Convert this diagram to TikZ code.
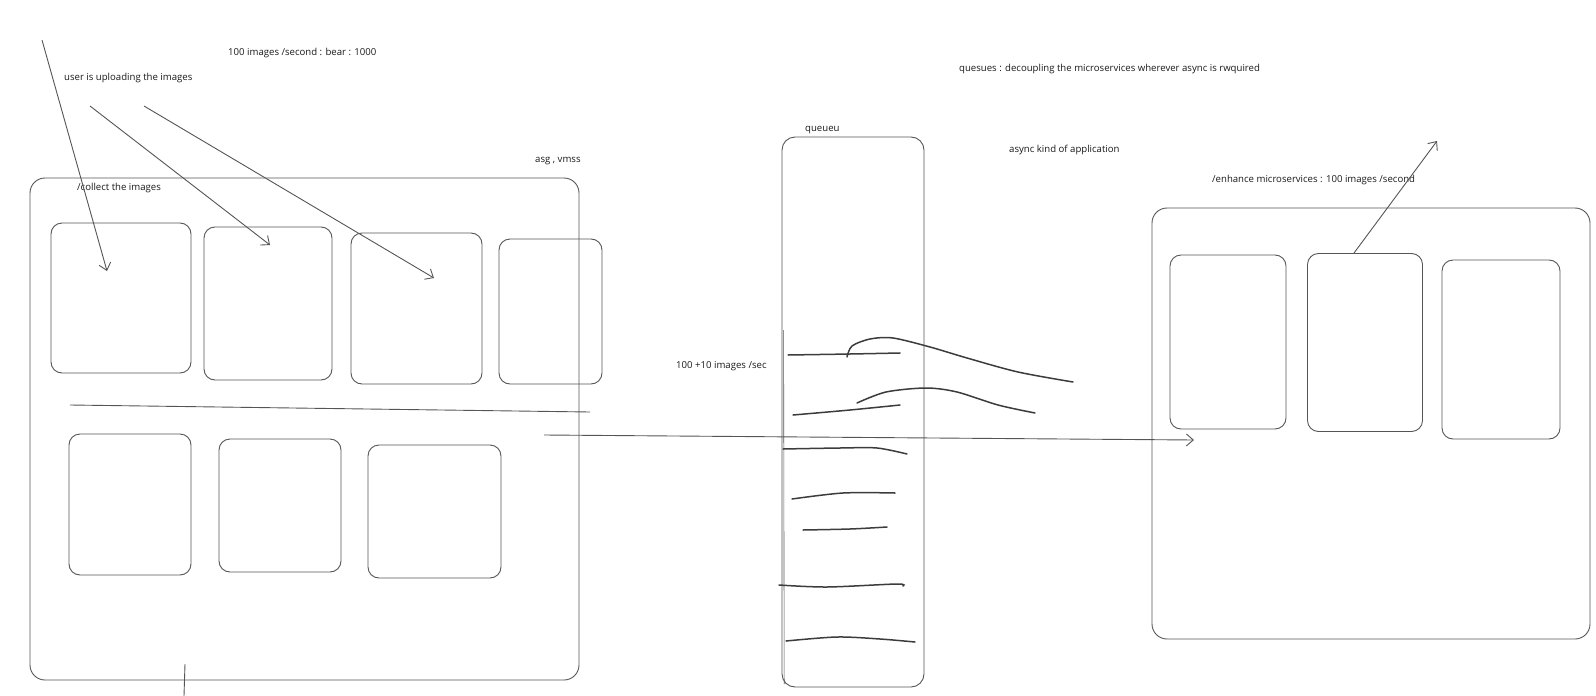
\documentclass[tikz,border=0pt]{standalone}
\usepackage{fontspec}
\setmainfont{Open Sans}
\usetikzlibrary{arrows.meta}
\definecolor{inkc}{RGB}{85,85,85}
\definecolor{penc}{RGB}{60,60,60}
\begin{document}
\begin{tikzpicture}[x=1pt,y=-1pt,
  box/.style={draw=inkc, line width=0.9pt, rounded corners=11pt, inner sep=0pt},
  lbl/.style={font=\fontsize{9.6}{11}\selectfont, text=black!90, anchor=west, inner sep=0pt},
  arr/.style={draw=inkc, line width=0.9pt, -{Straight Barb[length=7pt,width=12pt]}},
  ink/.style={draw=inkc, line width=0.9pt},
  pen/.style={draw=penc, line width=1.5pt, line cap=round}]
\useasboundingbox (0,0) rectangle (1596,696);

% left group
\node[box, minimum width=549pt, minimum height=502pt, rounded corners=15pt] (asg) at (304.5,429) {};
\node[box, minimum width=140pt, minimum height=150pt] (b1) at (121,298) {};
\node[box, minimum width=128pt, minimum height=153pt] (b2) at (268,303.5) {};
\node[box, minimum width=131pt, minimum height=151pt] (b3) at (416.5,308.5) {};
\node[box, minimum width=103pt, minimum height=145pt] (b4) at (550.5,311.5) {};
\node[box, minimum width=122pt, minimum height=141pt] (c1) at (130,504.5) {};
\node[box, minimum width=122pt, minimum height=133pt] (c2) at (280,505.5) {};
\node[box, minimum width=133pt, minimum height=133pt] (c3) at (434.5,511.5) {};

% queue
\node[box, minimum width=142pt, minimum height=550pt, rounded corners=13pt] (queue) at (853,412) {};
\coordinate (ql1) at (783.6,330);
\coordinate (ql2) at (784.2,684);
\draw[ink, line width=0.6pt] (ql1) -- (ql2);

% right group
\node[box, minimum width=438pt, minimum height=431pt, rounded corners=15pt] (enh) at (1371,423.5) {};
\node[box, minimum width=116pt, minimum height=174pt] (r1) at (1228,342) {};
\node[box, minimum width=115pt, minimum height=178pt] (r2) at (1365,342.5) {};
\node[box, minimum width=118pt, minimum height=179pt] (r3) at (1501,349.5) {};

% labels
\node[lbl] (t1) at (228,53) {100 images /second : bear : 1000};
\node[lbl] (t2) at (64,78) {user is uploading the images};
\node[lbl] (t3) at (77,188) {/collect the images};
\node[lbl] (t4) at (535,161) {asg , vmss};
\node[lbl] (t5) at (959,69) {quesues : decoupling the microservices wherever async is rwquired};
\node[lbl] (t6) at (805,130) {queueu};
\node[lbl] (t7) at (1009,150) {async kind of application};
\node[lbl] (t8) at (1212,180) {/enhance microservices : 100 images /second};
\node[lbl] (t9) at (676,366) {100 +10 images /sec};

% upload arrows
\coordinate (u1s) at (42,40);   \coordinate (u1e) at (107,271);
\coordinate (u2s) at (90,106);  \coordinate (u2e) at (270,245);
\coordinate (u3s) at (144,106); \coordinate (u3e) at (434,278);
\draw[arr] (u1s) -- (u1e);
\draw[arr] (u2s) -- (u2e);
\draw[arr] (u3s) -- (u3e);

% divider and small tick
\coordinate (d1) at (70,405); \coordinate (d2) at (590,412);
\draw[ink] (d1) -- (d2);
\coordinate (k1) at (185,664); \coordinate (k2) at (184,696);
\draw[ink] (k1) -- (k2);

% long arrow to enhance service
\coordinate (h1) at (544,435); \coordinate (h2) at (1194,440);
\draw[arr] (h1) -- (h2);

% outgoing arrow
\coordinate (o1) at (1354,253); \coordinate (o2) at (1437,141);
\draw[arr] (o1) -- (o2);

% queue messages
\draw[pen] plot[smooth] coordinates {(788,355) (850,354) (900,353)};
\draw[pen] plot[smooth] coordinates {(847,357) (852,346) (870,339) (893,338) (930,347) (967,358) (1018,372) (1073,382)};
\draw[pen] plot[smooth] coordinates {(793,415) (850,410) (900,405)};
\draw[pen] plot[smooth] coordinates {(857,403) (886,392) (926,388) (957,392) (998,405) (1035,413)};
\draw[pen] plot[smooth] coordinates {(783,449) (840,448) (877,448) (907,454)};
\draw[pen] plot[smooth] coordinates {(792,499) (843,493) (895,493)};
\draw[pen] plot[smooth] coordinates {(803,530) (850,529) (887,527)};
\draw[pen] plot[smooth] coordinates {(779,585) (827,587) (897,584) (903,586)};
\draw[pen] plot[smooth] coordinates {(786,641) (837,637) (880,639) (915,642)};
\end{tikzpicture}
\end{document}
